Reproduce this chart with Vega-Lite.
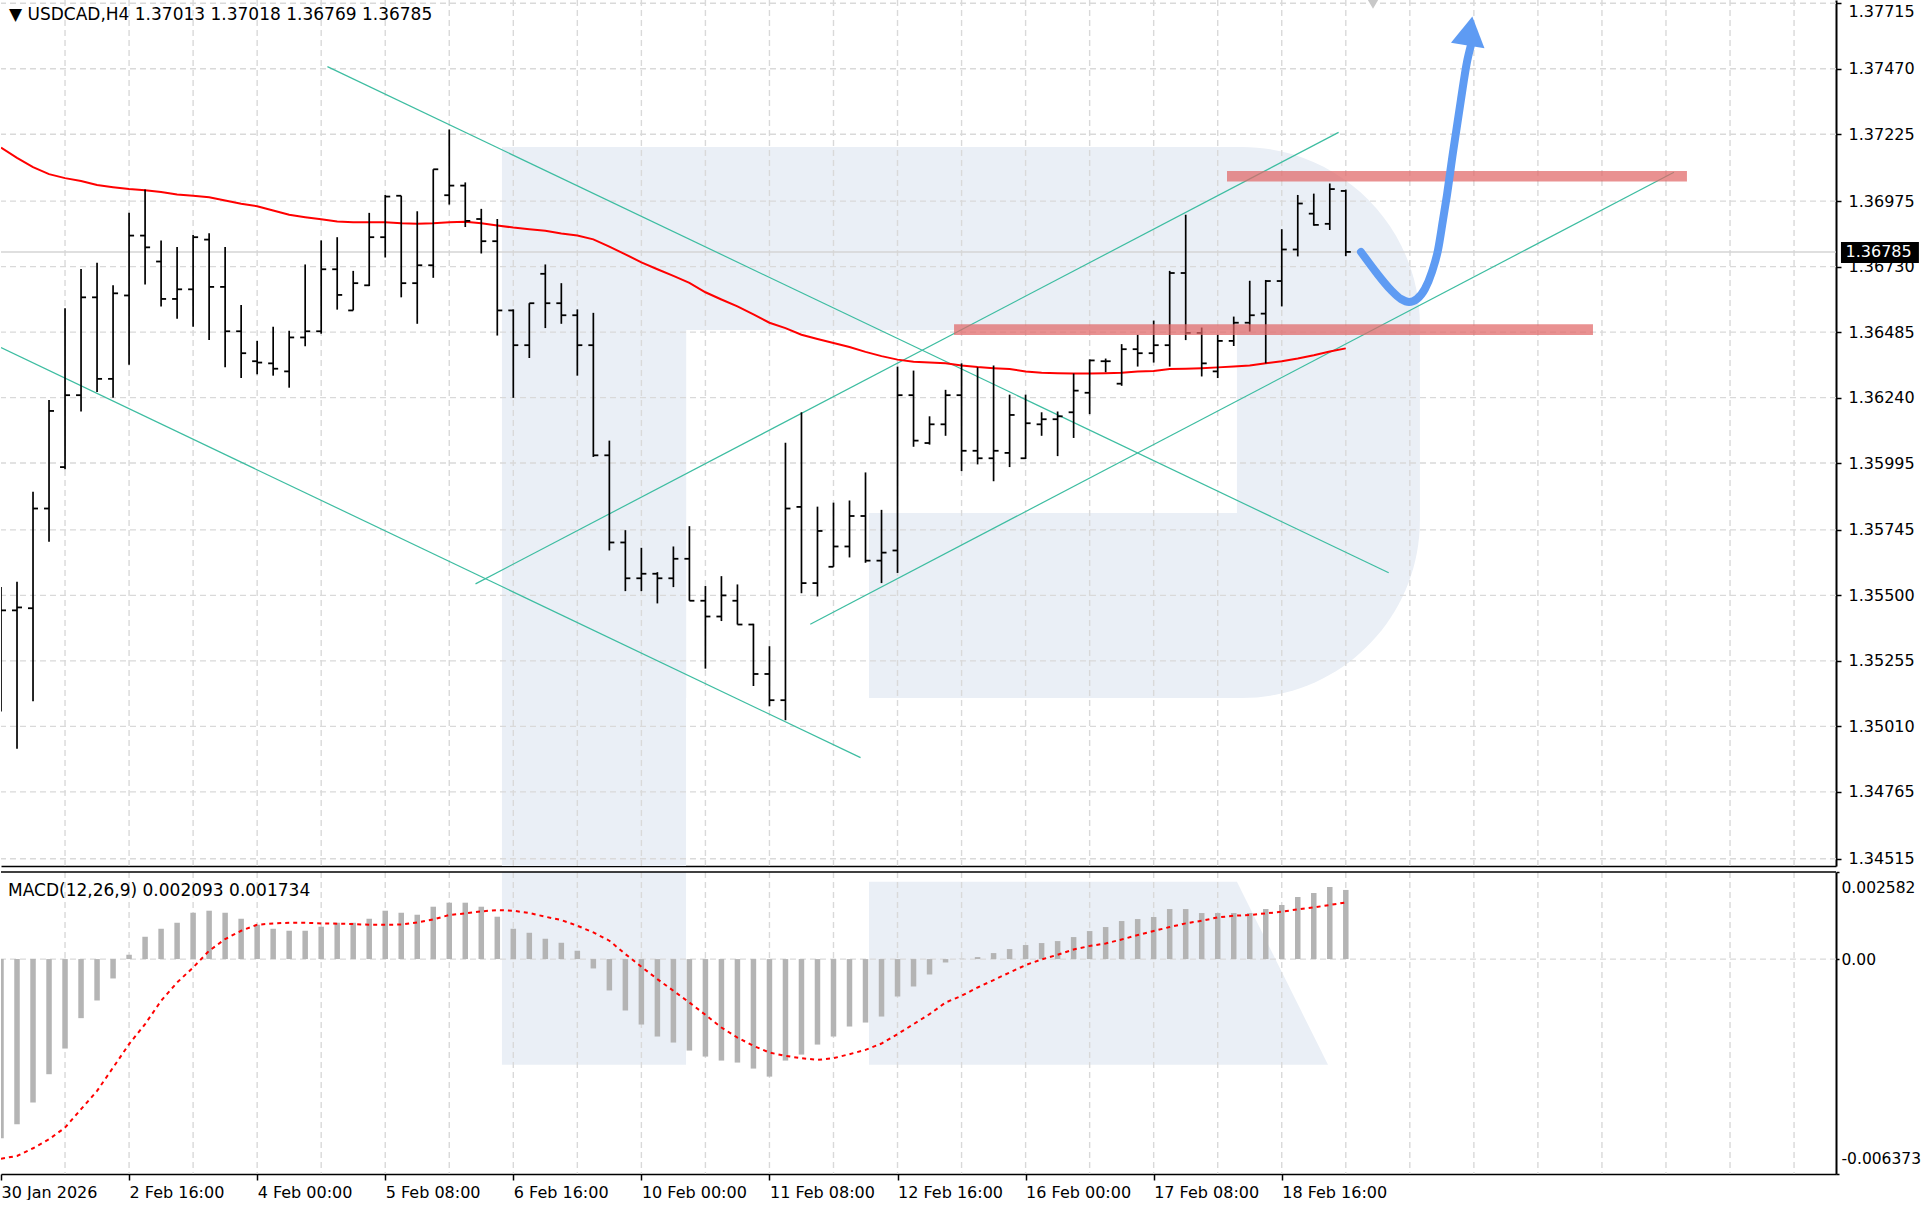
{
"$schema":"https://vega.github.io/schema/vega-lite/v6.json",
"padding":0,
"spacing":4,
"background":"white",
"config":{"view":{"stroke":null},"font":"DejaVu Sans","axis":{"labelFont":"DejaVu Sans","labelFontSize":16,"labelColor":"#000000","domainColor":"#000000","tickColor":"#000000"}},
"datasets":{
"bars":[
{"i":0,"o":1.35480,"h":1.35531,"l":1.35066,"c":1.35444,"ma":1.37175,"macd":-0.005313,"sig":-0.005918},
{"i":1,"o":1.35444,"h":1.35551,"l":1.34926,"c":1.35455,"ma":1.37137,"macd":-0.004898,"sig":-0.005839},
{"i":2,"o":1.35452,"h":1.35888,"l":1.35104,"c":1.35825,"ma":1.37102,"macd":-0.004256,"sig":-0.00561},
{"i":3,"o":1.35825,"h":1.36231,"l":1.35701,"c":1.36190,"ma":1.37076,"macd":-0.003414,"sig":-0.005343},
{"i":4,"o":1.35980,"h":1.36574,"l":1.35972,"c":1.36249,"ma":1.37061,"macd":-0.002653,"sig":-0.004998},
{"i":5,"o":1.36249,"h":1.36721,"l":1.36188,"c":1.36615,"ma":1.37050,"macd":-0.001752,"sig":-0.004452},
{"i":6,"o":1.36615,"h":1.36744,"l":1.36261,"c":1.36310,"ma":1.37035,"macd":-0.001228,"sig":-0.003909},
{"i":7,"o":1.36310,"h":1.36660,"l":1.36239,"c":1.36630,"ma":1.37027,"macd":-0.000575,"sig":-0.003217},
{"i":8,"o":1.36622,"h":1.36931,"l":1.36363,"c":1.36846,"ma":1.37020,"macd":0.000128,"sig":-0.002523},
{"i":9,"o":1.36846,"h":1.37018,"l":1.36663,"c":1.36802,"ma":1.37016,"macd":0.000662,"sig":-0.001929},
{"i":10,"o":1.36749,"h":1.36828,"l":1.36581,"c":1.36609,"ma":1.37009,"macd":0.000899,"sig":-0.001238},
{"i":11,"o":1.36609,"h":1.36803,"l":1.36535,"c":1.36645,"ma":1.37000,"macd":0.001077,"sig":-0.000694},
{"i":12,"o":1.36645,"h":1.36848,"l":1.36505,"c":1.36840,"ma":1.36995,"macd":0.001374,"sig":-0.000249},
{"i":13,"o":1.36831,"h":1.36855,"l":1.36455,"c":1.36654,"ma":1.36989,"macd":0.001434,"sig":0.000246},
{"i":14,"o":1.36654,"h":1.36803,"l":1.36353,"c":1.36488,"ma":1.36977,"macd":0.001374,"sig":0.000594},
{"i":15,"o":1.36488,"h":1.36586,"l":1.36313,"c":1.36406,"ma":1.36965,"macd":0.001196,"sig":0.00084},
{"i":16,"o":1.36376,"h":1.36452,"l":1.36327,"c":1.36371,"ma":1.36956,"macd":0.001018,"sig":0.001018},
{"i":17,"o":1.36368,"h":1.36505,"l":1.36322,"c":1.36348,"ma":1.36940,"macd":0.000899,"sig":0.001058},
{"i":18,"o":1.36338,"h":1.36490,"l":1.36277,"c":1.36465,"ma":1.36924,"macd":0.00084,"sig":0.001077},
{"i":19,"o":1.36465,"h":1.36738,"l":1.36432,"c":1.36488,"ma":1.36915,"macd":0.00084,"sig":0.001077},
{"i":20,"o":1.36488,"h":1.36828,"l":1.36479,"c":1.36720,"ma":1.36907,"macd":0.000959,"sig":0.001058},
{"i":21,"o":1.36720,"h":1.36840,"l":1.36569,"c":1.36624,"ma":1.36899,"macd":0.001077,"sig":0.00105},
{"i":22,"o":1.36566,"h":1.36714,"l":1.36566,"c":1.36668,"ma":1.36896,"macd":0.001077,"sig":0.001039},
{"i":23,"o":1.36660,"h":1.36931,"l":1.36657,"c":1.36840,"ma":1.36896,"macd":0.001196,"sig":0.001018},
{"i":24,"o":1.36840,"h":1.36998,"l":1.36764,"c":1.36992,"ma":1.36896,"macd":0.001434,"sig":0.001018},
{"i":25,"o":1.36995,"h":1.36995,"l":1.36615,"c":1.36668,"ma":1.36892,"macd":0.001374,"sig":0.001025},
{"i":26,"o":1.36668,"h":1.36937,"l":1.36516,"c":1.36735,"ma":1.36890,"macd":0.001315,"sig":0.001087},
{"i":27,"o":1.36735,"h":1.37094,"l":1.36688,"c":1.37094,"ma":1.36892,"macd":0.001553,"sig":0.001176},
{"i":28,"o":1.36997,"h":1.37243,"l":1.36962,"c":1.37033,"ma":1.36896,"macd":0.001672,"sig":0.001306},
{"i":29,"o":1.37033,"h":1.37045,"l":1.36878,"c":1.36901,"ma":1.36898,"macd":0.001672,"sig":0.001355},
{"i":30,"o":1.36908,"h":1.36946,"l":1.36779,"c":1.36825,"ma":1.36892,"macd":0.001553,"sig":0.001414},
{"i":31,"o":1.36825,"h":1.36908,"l":1.36472,"c":1.36566,"ma":1.36884,"macd":0.001256,"sig":0.001454},
{"i":32,"o":1.36566,"h":1.36570,"l":1.36239,"c":1.36436,"ma":1.36876,"macd":0.000899,"sig":0.001434},
{"i":33,"o":1.36436,"h":1.36593,"l":1.36388,"c":1.36593,"ma":1.36870,"macd":0.00078,"sig":0.001365},
{"i":34,"o":1.36703,"h":1.36738,"l":1.36500,"c":1.36593,"ma":1.36864,"macd":0.000603,"sig":0.001256},
{"i":35,"o":1.36593,"h":1.36668,"l":1.36516,"c":1.36548,"ma":1.36854,"macd":0.000484,"sig":0.001157},
{"i":36,"o":1.36548,"h":1.36570,"l":1.36322,"c":1.36436,"ma":1.36846,"macd":0.000247,"sig":0.000988},
{"i":37,"o":1.36436,"h":1.36557,"l":1.36018,"c":1.36024,"ma":1.36832,"macd":-0.000278,"sig":0.00079},
{"i":38,"o":1.36024,"h":1.36079,"l":1.35668,"c":1.35698,"ma":1.36805,"macd":-0.000931,"sig":0.000544},
{"i":39,"o":1.35698,"h":1.35744,"l":1.35516,"c":1.35564,"ma":1.36776,"macd":-0.001525,"sig":0.000148},
{"i":40,"o":1.35564,"h":1.35678,"l":1.35516,"c":1.35581,"ma":1.36746,"macd":-0.001941,"sig":-0.000229},
{"i":41,"o":1.35581,"h":1.35587,"l":1.35470,"c":1.35564,"ma":1.36720,"macd":-0.002297,"sig":-0.000594},
{"i":42,"o":1.35564,"h":1.35683,"l":1.35531,"c":1.35637,"ma":1.36695,"macd":-0.002475,"sig":-0.000941},
{"i":43,"o":1.35637,"h":1.35759,"l":1.35480,"c":1.35480,"ma":1.36669,"macd":-0.002713,"sig":-0.001288},
{"i":44,"o":1.35480,"h":1.35535,"l":1.35226,"c":1.35421,"ma":1.36634,"macd":-0.002891,"sig":-0.001653},
{"i":45,"o":1.35421,"h":1.35572,"l":1.35404,"c":1.35500,"ma":1.36607,"macd":-0.00301,"sig":-0.00203},
{"i":46,"o":1.35480,"h":1.35541,"l":1.35391,"c":1.35391,"ma":1.36581,"macd":-0.003069,"sig":-0.002327},
{"i":47,"o":1.35391,"h":1.35394,"l":1.35161,"c":1.35206,"ma":1.36551,"macd":-0.003247,"sig":-0.002573},
{"i":48,"o":1.35206,"h":1.35310,"l":1.35085,"c":1.35108,"ma":1.36520,"macd":-0.003485,"sig":-0.002772},
{"i":49,"o":1.35108,"h":1.36071,"l":1.35033,"c":1.35825,"ma":1.36500,"macd":-0.00301,"sig":-0.00287},
{"i":50,"o":1.35831,"h":1.36185,"l":1.35508,"c":1.35546,"ma":1.36475,"macd":-0.002832,"sig":-0.002939},
{"i":51,"o":1.35546,"h":1.35832,"l":1.35496,"c":1.35741,"ma":1.36459,"macd":-0.002535,"sig":-0.002989},
{"i":52,"o":1.35607,"h":1.35847,"l":1.35607,"c":1.35683,"ma":1.36444,"macd":-0.002297,"sig":-0.002939},
{"i":53,"o":1.35683,"h":1.35855,"l":1.35642,"c":1.35797,"ma":1.36429,"macd":-0.002,"sig":-0.00282},
{"i":54,"o":1.35797,"h":1.35960,"l":1.35622,"c":1.35630,"ma":1.36411,"macd":-0.001882,"sig":-0.002692},
{"i":55,"o":1.35630,"h":1.35820,"l":1.35546,"c":1.35660,"ma":1.36395,"macd":-0.001704,"sig":-0.002505},
{"i":56,"o":1.35668,"h":1.36356,"l":1.35584,"c":1.36249,"ma":1.36382,"macd":-0.00111,"sig":-0.002226},
{"i":57,"o":1.36249,"h":1.36341,"l":1.36056,"c":1.36079,"ma":1.36374,"macd":-0.000813,"sig":-0.001929},
{"i":58,"o":1.36070,"h":1.36170,"l":1.36064,"c":1.36140,"ma":1.36371,"macd":-0.000457,"sig":-0.001633},
{"i":59,"o":1.36140,"h":1.36269,"l":1.36097,"c":1.36249,"ma":1.36368,"macd":-0.000101,"sig":-0.001288},
{"i":60,"o":1.36249,"h":1.36368,"l":1.35965,"c":1.36041,"ma":1.36360,"macd":0.00001,"sig":-0.001089},
{"i":61,"o":1.36041,"h":1.36353,"l":1.35990,"c":1.36013,"ma":1.36354,"macd":0.000059,"sig":-0.000842},
{"i":62,"o":1.36013,"h":1.36360,"l":1.35927,"c":1.36041,"ma":1.36350,"macd":0.000178,"sig":-0.000623},
{"i":63,"o":1.36033,"h":1.36251,"l":1.35980,"c":1.36175,"ma":1.36347,"macd":0.000297,"sig":-0.000398},
{"i":64,"o":1.36013,"h":1.36251,"l":1.36010,"c":1.36144,"ma":1.36338,"macd":0.000416,"sig":-0.000178},
{"i":65,"o":1.36140,"h":1.36185,"l":1.36097,"c":1.36159,"ma":1.36333,"macd":0.000475,"sig":-0.00001},
{"i":66,"o":1.36159,"h":1.36188,"l":1.36021,"c":1.36170,"ma":1.36331,"macd":0.000534,"sig":0.000128},
{"i":67,"o":1.36185,"h":1.36330,"l":1.36089,"c":1.36266,"ma":1.36330,"macd":0.000653,"sig":0.000285},
{"i":68,"o":1.36258,"h":1.36383,"l":1.36178,"c":1.36379,"ma":1.36330,"macd":0.000831,"sig":0.000386},
{"i":69,"o":1.36376,"h":1.36386,"l":1.36335,"c":1.36376,"ma":1.36331,"macd":0.00095,"sig":0.000463},
{"i":70,"o":1.36292,"h":1.36440,"l":1.36284,"c":1.36421,"ma":1.36333,"macd":0.001128,"sig":0.000582},
{"i":71,"o":1.36421,"h":1.36475,"l":1.36356,"c":1.36406,"ma":1.36338,"macd":0.001187,"sig":0.000712},
{"i":72,"o":1.36406,"h":1.36528,"l":1.36371,"c":1.36436,"ma":1.36339,"macd":0.001247,"sig":0.000831},
{"i":73,"o":1.36436,"h":1.36714,"l":1.36356,"c":1.36706,"ma":1.36347,"macd":0.001484,"sig":0.00095},
{"i":74,"o":1.36706,"h":1.36924,"l":1.36455,"c":1.36482,"ma":1.36348,"macd":0.001484,"sig":0.001058},
{"i":75,"o":1.36482,"h":1.36502,"l":1.36319,"c":1.36368,"ma":1.36350,"macd":0.001365,"sig":0.001137},
{"i":76,"o":1.36338,"h":1.36475,"l":1.36313,"c":1.36452,"ma":1.36353,"macd":0.001365,"sig":0.001235},
{"i":77,"o":1.36452,"h":1.36543,"l":1.36433,"c":1.36520,"ma":1.36356,"macd":0.001365,"sig":0.001285},
{"i":78,"o":1.36520,"h":1.36677,"l":1.36487,"c":1.36548,"ma":1.36360,"macd":0.001365,"sig":0.001306},
{"i":79,"o":1.36554,"h":1.36680,"l":1.36368,"c":1.36676,"ma":1.36368,"macd":0.001484,"sig":0.001355},
{"i":80,"o":1.36676,"h":1.36870,"l":1.36581,"c":1.36794,"ma":1.36376,"macd":0.001603,"sig":0.001404},
{"i":81,"o":1.36794,"h":1.36998,"l":1.36768,"c":1.36966,"ma":1.36386,"macd":0.00184,"sig":0.001474},
{"i":82,"o":1.36928,"h":1.37003,"l":1.36883,"c":1.36886,"ma":1.36398,"macd":0.001959,"sig":0.001533},
{"i":83,"o":1.36890,"h":1.37041,"l":1.36867,"c":1.37020,"ma":1.36412,"macd":0.002137,"sig":0.001603},
{"i":84,"o":1.37013,"h":1.37018,"l":1.36769,"c":1.36785,"ma":1.36424,"macd":0.00205,"sig":0.00168}
],
"chan":[
{"id":"A","i":20.39,"p":1.37478},{"id":"A","i":86.68,"p":1.35585},
{"id":"B","i":0,"p":1.36427},{"id":"B","i":53.69,"p":1.34893},
{"id":"C","i":29.64,"p":1.35543},{"id":"C","i":83.55,"p":1.37232},
{"id":"D","i":50.55,"p":1.35392},{"id":"D","i":104.5,"p":1.37083}
],
"bands":[
{"x1":76.58,"x2":105.31,"y1":1.37048,"y2":1.37088},
{"x1":59.53,"x2":99.44,"y1":1.36474,"y2":1.36514}
],
"arrow":[
{"i":84.95,"p":1.367846},{"i":85.88,"p":1.367098},{"i":86.82,"p":1.366425},{"i":87.45,"p":1.366088},{"i":87.95,"p":1.365976},{"i":88.44,"p":1.366088},{"i":88.94,"p":1.366462},{"i":89.38,"p":1.367098},{"i":89.76,"p":1.367921},{"i":90.07,"p":1.369043},{"i":90.32,"p":1.369978},{"i":90.69,"p":1.37155},{"i":91.19,"p":1.373532},{"i":91.57,"p":1.374954},{"i":91.82,"p":1.37559}
],
"arrowHead":[{"i":91.76,"p":1.376114}],
"gy":[{"v":1.37715},{"v":1.3747},{"v":1.37225},{"v":1.36975},{"v":1.3673},{"v":1.36485},{"v":1.3624},{"v":1.35995},{"v":1.35745},{"v":1.355},{"v":1.35255},{"v":1.3501},{"v":1.34765},{"v":1.34515}],
"gx":[{"v":4},{"v":8},{"v":12},{"v":16},{"v":20},{"v":24},{"v":28},{"v":32},{"v":36},{"v":40},{"v":44},{"v":48},{"v":52},{"v":56},{"v":60},{"v":64},{"v":68},{"v":72},{"v":76},{"v":80},{"v":84},{"v":88},{"v":92},{"v":96},{"v":100},{"v":104},{"v":108},{"v":112}],
"wmStem":[{"x1":31.29,"x2":42.79,"y1":1.3448,"y2":1.371774}],
"wmBowl":[{"x1":42.79,"x2":88.63,"y1":1.351161,"y2":1.371774}],
"wmHoles":[{"x1":42.8,"x2":77.2,"y1":1.358082,"y2":1.364928},{"x1":42.8,"x2":54.22,"y1":1.351161,"y2":1.358082}],
"wmStemM":[{"x1":31.29,"x2":42.79,"y1":-0.003137,"y2":0.0026}],
"wmLeg":[{"i":54.22,"t":0.002294,"b":-0.003137},{"i":77.2,"t":0.002294,"b":-0.003137},{"i":82.89,"t":-0.003137,"b":-0.003137}],
"head":[{"t":"▼ USDCAD,H4  1.37013 1.37018 1.36769 1.36785"}],
"macdHead":[{"t":"MACD(12,26,9) 0.002093 0.001734"}],
"last":[{"p":1.36785,"t":"1.36785"}],
"shift":[{"i":85.7,"p":1.377273}]
},
"vconcat":[
{"width":1835,"height":866,
"resolve":{"axis":{"x":"independent","y":"independent"}},
"layer":[
{"data":{"name":"wmStem"},"mark":{"type":"rect","color":"#eaeff6","clip":true},
"encoding":{"x":{"field":"x1","type":"quantitative","scale":{"domain":[0,114.62],"nice":false,"zero":false},"axis":null},"x2":{"field":"x2"},
"y":{"field":"y1","type":"quantitative","scale":{"domain":[1.344877,1.377273],"nice":false,"zero":false},"axis":null},"y2":{"field":"y2"}}},
{"data":{"name":"wmBowl"},"mark":{"type":"rect","color":"#eaeff6","clip":true,"cornerRadiusTopRight":178,"cornerRadiusBottomRight":178},
"encoding":{"x":{"field":"x1","type":"quantitative","scale":{"domain":[0,114.62],"nice":false,"zero":false},"axis":null},"x2":{"field":"x2"},
"y":{"field":"y1","type":"quantitative","scale":{"domain":[1.344877,1.377273],"nice":false,"zero":false},"axis":null},"y2":{"field":"y2"}}},
{"data":{"name":"wmHoles"},"mark":{"type":"rect","color":"#ffffff","clip":true},
"encoding":{"x":{"field":"x1","type":"quantitative","scale":{"domain":[0,114.62],"nice":false,"zero":false},"axis":null},"x2":{"field":"x2"},
"y":{"field":"y1","type":"quantitative","scale":{"domain":[1.344877,1.377273],"nice":false,"zero":false},"axis":null},"y2":{"field":"y2"}}},
{"data":{"name":"gy"},"mark":{"type":"rule","color":"#d9d9d9","strokeWidth":1.4,"strokeDash":[6,4],"clip":true},
"encoding":{"y":{"field":"v","type":"quantitative","scale":{"domain":[1.344877,1.377273],"nice":false,"zero":false},"axis":null}}},
{"data":{"name":"gx"},"mark":{"type":"rule","color":"#d9d9d9","strokeWidth":1.4,"strokeDash":[6,4],"clip":true},
"encoding":{"x":{"field":"v","type":"quantitative","scale":{"domain":[0,114.62],"nice":false,"zero":false},"axis":null}}},
{"data":{"name":"last"},"mark":{"type":"rule","color":"#d4d4d4","strokeWidth":1.5,"clip":true},
"encoding":{"y":{"field":"p","type":"quantitative","scale":{"domain":[1.344877,1.377273],"nice":false,"zero":false},"axis":null}}},
{"data":{"name":"chan"},"mark":{"type":"line","color":"#3dbda1","strokeWidth":1.2,"clip":true},
"encoding":{"x":{"field":"i","type":"quantitative","scale":{"domain":[0,114.62],"nice":false,"zero":false},"axis":null},
"y":{"field":"p","type":"quantitative","scale":{"domain":[1.344877,1.377273],"nice":false,"zero":false},"axis":null},"detail":{"field":"id"}}},
{"data":{"name":"bars"},"mark":{"type":"line","color":"#ff0000","strokeWidth":2,"clip":true},
"encoding":{"x":{"field":"i","type":"quantitative","scale":{"domain":[0,114.62],"nice":false,"zero":false},"axis":null},
"y":{"field":"ma","type":"quantitative","scale":{"domain":[1.344877,1.377273],"nice":false,"zero":false},"axis":null}}},
{"data":{"name":"bars"},"mark":{"type":"rule","color":"#000000","strokeWidth":1.7,"clip":true},
"encoding":{"x":{"field":"i","type":"quantitative","scale":{"domain":[0,114.62],"nice":false,"zero":false},"axis":{"orient":"bottom","labels":false,"ticks":false,"domain":true,"domainWidth":1.5,"grid":false,"title":null}},
"y":{"field":"l","type":"quantitative","scale":{"domain":[1.344877,1.377273],"nice":false,"zero":false},"axis":{"orient":"right","values":[1.37715,1.3747,1.37225,1.36975,1.3673,1.36485,1.3624,1.35995,1.35745,1.355,1.35255,1.3501,1.34765,1.34515],"format":".5f","tickSize":5,"tickWidth":1.5,"domainWidth":2,"labelPadding":7,"labelFlush":5,"labelOverlap":false,"grid":false,"title":null}},
"y2":{"field":"h"}}},
{"data":{"name":"bars"},"mark":{"type":"tick","orient":"horizontal","size":5,"thickness":1.8,"xOffset":-2.5,"color":"#000000","opacity":1,"clip":true},
"encoding":{"x":{"field":"i","type":"quantitative","scale":{"domain":[0,114.62],"nice":false,"zero":false},"axis":null},
"y":{"field":"o","type":"quantitative","scale":{"domain":[1.344877,1.377273],"nice":false,"zero":false},"axis":null}}},
{"data":{"name":"bars"},"mark":{"type":"tick","orient":"horizontal","size":5,"thickness":1.8,"xOffset":2.5,"color":"#000000","opacity":1,"clip":true},
"encoding":{"x":{"field":"i","type":"quantitative","scale":{"domain":[0,114.62],"nice":false,"zero":false},"axis":null},
"y":{"field":"c","type":"quantitative","scale":{"domain":[1.344877,1.377273],"nice":false,"zero":false},"axis":null}}},
{"data":{"name":"bands"},"mark":{"type":"rect","color":"#e06666","opacity":0.72,"clip":true},
"encoding":{"x":{"field":"x1","type":"quantitative","scale":{"domain":[0,114.62],"nice":false,"zero":false},"axis":null},"x2":{"field":"x2"},
"y":{"field":"y1","type":"quantitative","scale":{"domain":[1.344877,1.377273],"nice":false,"zero":false},"axis":null},"y2":{"field":"y2"}}},
{"data":{"name":"arrow"},"mark":{"type":"line","color":"#5e9bf3","strokeWidth":8,"strokeCap":"round","interpolate":"monotone","clip":true},
"encoding":{"x":{"field":"i","type":"quantitative","scale":{"domain":[0,114.62],"nice":false,"zero":false},"axis":null},
"y":{"field":"p","type":"quantitative","scale":{"domain":[1.344877,1.377273],"nice":false,"zero":false},"axis":null}}},
{"data":{"name":"arrowHead"},"mark":{"type":"point","shape":"triangle-up","filled":true,"size":1150,"angle":9,"color":"#5e9bf3","opacity":1,"clip":true},
"encoding":{"x":{"field":"i","type":"quantitative","scale":{"domain":[0,114.62],"nice":false,"zero":false},"axis":null},
"y":{"field":"p","type":"quantitative","scale":{"domain":[1.344877,1.377273],"nice":false,"zero":false},"axis":null}}},
{"data":{"name":"shift"},"mark":{"type":"point","shape":"triangle-down","filled":true,"size":420,"color":"#c8c8c8","opacity":1,"clip":true},
"encoding":{"x":{"field":"i","type":"quantitative","scale":{"domain":[0,114.62],"nice":false,"zero":false},"axis":null},
"y":{"field":"p","type":"quantitative","scale":{"domain":[1.344877,1.377273],"nice":false,"zero":false},"axis":null}}},
{"data":{"name":"head"},"mark":{"type":"text","align":"left","baseline":"middle","font":"DejaVu Sans","fontSize":17,"color":"#000000"},
"encoding":{"x":{"datum":0.5,"type":"quantitative","scale":{"domain":[0,114.62],"nice":false,"zero":false},"axis":null},
"y":{"datum":1.376712,"type":"quantitative","scale":{"domain":[1.344877,1.377273],"nice":false,"zero":false},"axis":null},"text":{"field":"t"}}},
{"data":{"name":"last"},"mark":{"type":"rect","color":"#000000","clip":false},
"encoding":{"x":{"datum":114.93,"type":"quantitative","scale":{"domain":[0,114.62],"nice":false,"zero":false},"axis":null},"x2":{"datum":119.8},
"y":{"datum":1.367435,"type":"quantitative","scale":{"domain":[1.344877,1.377273],"nice":false,"zero":false},"axis":null},"y2":{"datum":1.36822}}},
{"data":{"name":"last"},"mark":{"type":"text","align":"center","baseline":"middle","font":"DejaVu Sans","fontSize":16,"color":"#ffffff","clip":false},
"encoding":{"x":{"datum":117.28,"type":"quantitative","scale":{"domain":[0,114.62],"nice":false,"zero":false},"axis":null},
"y":{"field":"p","type":"quantitative","scale":{"domain":[1.344877,1.377273],"nice":false,"zero":false},"axis":null},"text":{"field":"t"}}}
]},
{"width":1835,"height":302,
"resolve":{"axis":{"x":"independent","y":"independent"}},
"layer":[
{"data":{"name":"wmStemM"},"mark":{"type":"rect","color":"#eaeff6","clip":true},
"encoding":{"x":{"field":"x1","type":"quantitative","scale":{"domain":[0,114.62],"nice":false,"zero":false},"axis":null},"x2":{"field":"x2"},
"y":{"field":"y1","type":"quantitative","scale":{"domain":[-0.006373,0.002582],"nice":false,"zero":false},"axis":null},"y2":{"field":"y2"}}},
{"data":{"name":"wmLeg"},"mark":{"type":"area","color":"#eaeff6","opacity":1,"clip":true},
"encoding":{"x":{"field":"i","type":"quantitative","scale":{"domain":[0,114.62],"nice":false,"zero":false},"axis":null},
"y":{"field":"t","type":"quantitative","scale":{"domain":[-0.006373,0.002582],"nice":false,"zero":false},"axis":null},"y2":{"field":"b"}}},
{"data":{"name":"gx"},"mark":{"type":"rule","color":"#d9d9d9","strokeWidth":1.4,"strokeDash":[6,4],"clip":true},
"encoding":{"x":{"field":"v","type":"quantitative","scale":{"domain":[0,114.62],"nice":false,"zero":false},"axis":null}}},
{"data":{"values":[{"v":0}]},"mark":{"type":"rule","color":"#d9d9d9","strokeWidth":1.4,"strokeDash":[6,4],"clip":true},
"encoding":{"y":{"field":"v","type":"quantitative","scale":{"domain":[-0.006373,0.002582],"nice":false,"zero":false},"axis":null}}},
{"data":{"name":"bars"},"mark":{"type":"rule","color":"#b4b4b4","strokeWidth":5.5,"strokeCap":"butt","clip":true},
"encoding":{"x":{"field":"i","type":"quantitative","scale":{"domain":[0,114.62],"nice":false,"zero":false},"axis":{"orient":"bottom","values":[0,8,16,24,32,40,48,56,64,72,80],"labelExpr":"['30 Jan 2026','2 Feb 16:00','4 Feb 00:00','5 Feb 08:00','6 Feb 16:00','10 Feb 00:00','11 Feb 08:00','12 Feb 16:00','16 Feb 00:00','17 Feb 08:00','18 Feb 16:00'][round(datum.value/8)]","labelAlign":"left","labelPadding":4,"tickSize":6,"tickWidth":1.5,"domainWidth":1.5,"labelOverlap":false,"labelBound":false,"labelFlush":false,"grid":false,"title":null}},
"y":{"field":"macd","type":"quantitative","scale":{"domain":[-0.006373,0.002582],"nice":false,"zero":false},"axis":{"orient":"right","values":[-0.006373,0,0.002582],"labelExpr":"datum.value < 0 ? '-0.006373' : (datum.value > 0 ? '0.002582' : '0.00')","labelFontSize":15.5,"tickSize":3,"tickWidth":1.5,"domainWidth":2,"labelPadding":2,"labelFlush":true,"labelFlushOffset":-8,"labelOverlap":false,"grid":false,"title":null}},
"y2":{"datum":0}}},
{"data":{"name":"bars"},"mark":{"type":"line","color":"#ff0000","strokeWidth":2,"strokeDash":[4,4],"clip":true},
"encoding":{"x":{"field":"i","type":"quantitative","scale":{"domain":[0,114.62],"nice":false,"zero":false},"axis":null},
"y":{"field":"sig","type":"quantitative","scale":{"domain":[-0.006373,0.002582],"nice":false,"zero":false},"axis":null}}},
{"data":{"values":[{"v":0.002582}]},"mark":{"type":"rule","color":"#000000","strokeWidth":1.5},
"encoding":{"y":{"field":"v","type":"quantitative","scale":{"domain":[-0.006373,0.002582],"nice":false,"zero":false},"axis":null}}},
{"data":{"name":"macdHead"},"mark":{"type":"text","align":"left","baseline":"middle","font":"DejaVu Sans","fontSize":17,"color":"#000000"},
"encoding":{"x":{"datum":0.44,"type":"quantitative","scale":{"domain":[0,114.62],"nice":false,"zero":false},"axis":null},
"y":{"datum":0.002027,"type":"quantitative","scale":{"domain":[-0.006373,0.002582],"nice":false,"zero":false},"axis":null},"text":{"field":"t"}}}
]}
]
}
